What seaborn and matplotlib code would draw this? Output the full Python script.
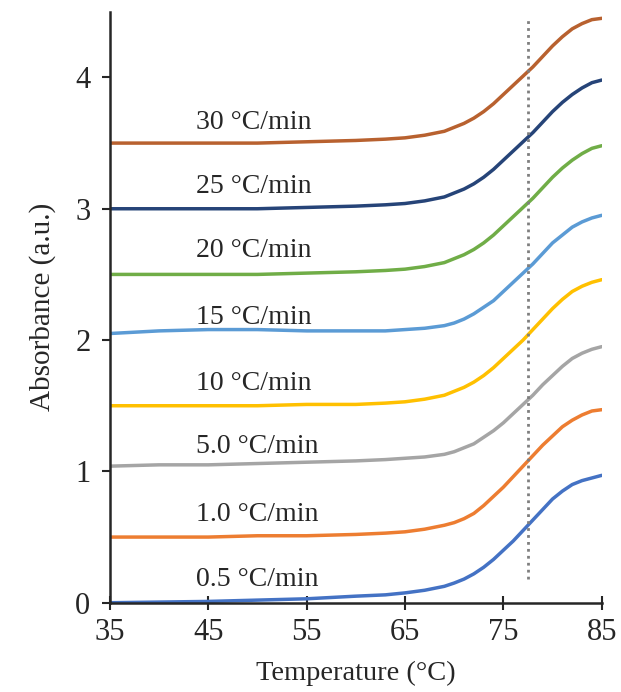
import numpy as np
import pandas as pd
import matplotlib
matplotlib.use("Agg")
import matplotlib.pyplot as plt
import seaborn as sns

# ---- data ----
temperature = [35, 40, 45, 50, 55, 60, 63, 65, 67, 69, 70, 71, 72, 73, 74, 75,
               76, 77, 78, 79, 80, 81, 82, 83, 84, 85]

rate_labels = ["0.5 °C/min", "1.0 °C/min", "5.0 °C/min", "10 °C/min",
               "15 °C/min", "20 °C/min", "25 °C/min", "30 °C/min"]

abs_05 = [0.00, 0.005, 0.01, 0.02, 0.03, 0.05, 0.06,
          0.075, 0.095, 0.125, 0.15, 0.18, 0.22, 0.27, 0.33, 0.40, 0.47, 0.55, 0.63, 0.71, 0.79, 0.85, 0.90, 0.93, 0.95, 0.97]
abs_10 = [0.50, 0.50, 0.50, 0.51, 0.51, 0.52, 0.53,
          0.54, 0.56, 0.59, 0.61, 0.64, 0.68, 0.74, 0.81, 0.88, 0.96, 1.04, 1.12, 1.20, 1.27, 1.34, 1.39, 1.43, 1.46, 1.47]
abs_50 = [1.04, 1.05, 1.05, 1.06, 1.07, 1.08, 1.09,
          1.10, 1.11, 1.13, 1.15, 1.18, 1.21, 1.26, 1.31, 1.37, 1.44, 1.51, 1.58, 1.66, 1.73, 1.80, 1.86, 1.90, 1.93, 1.95]
abs_100 = [1.50, 1.50, 1.50, 1.50, 1.51, 1.51, 1.52,
           1.53, 1.55, 1.58, 1.61, 1.64, 1.68, 1.73, 1.79, 1.86, 1.93, 2.00, 2.08, 2.16, 2.24, 2.31, 2.37, 2.41, 2.44, 2.46]
abs_150 = [2.05, 2.07, 2.08, 2.08, 2.07, 2.07, 2.07,
           2.08, 2.09, 2.11, 2.13, 2.16, 2.20, 2.25, 2.30, 2.37, 2.44, 2.51, 2.58, 2.66, 2.74, 2.80, 2.86, 2.90, 2.93, 2.95]
abs_200 = [2.50, 2.50, 2.50, 2.50, 2.51, 2.52, 2.53,
           2.54, 2.56, 2.59, 2.62, 2.65, 2.69, 2.74, 2.80, 2.87, 2.94, 3.01, 3.08, 3.16, 3.24, 3.31, 3.37, 3.42, 3.46, 3.48]
abs_250 = [3.00, 3.00, 3.00, 3.00, 3.01, 3.02, 3.03,
           3.04, 3.06, 3.09, 3.12, 3.15, 3.19, 3.24, 3.30, 3.37, 3.44, 3.51, 3.58, 3.66, 3.74, 3.81, 3.87, 3.92, 3.96, 3.98]
abs_300 = [3.50, 3.50, 3.50, 3.50, 3.51, 3.52, 3.53,
           3.54, 3.56, 3.59, 3.62, 3.65, 3.69, 3.74, 3.80, 3.87, 3.94, 4.01, 4.08, 4.16, 4.24, 4.31, 4.37, 4.41, 4.44, 4.45]

series_values = [abs_05, abs_10, abs_50, abs_100, abs_150, abs_200, abs_250, abs_300]

label_y = [0.18, 0.67, 1.19, 1.67, 2.17, 2.68, 3.17, 3.66]
label_x = 43.8

melting_temp = 77.5
melt_line_span = [0.18, 4.46]

x_ticks = [35, 45, 55, 65, 75, 85]
y_ticks = [0, 1, 2, 3, 4]

colors = ["#4472C4", "#ED7D31", "#A5A5A5", "#FFC000",
          "#5B9BD5", "#70AD47", "#264478", "#B8612F"]

# ---- build long-form table ----
rows = []
for lab, vals in zip(rate_labels, series_values):
    for t, v in zip(temperature, vals):
        rows.append({"Temperature": t, "Absorbance": v, "Rate": lab})
df = pd.DataFrame(rows)

sns.set_style("ticks")
plt.rcParams['font.family'] = ['Liberation Serif', 'DejaVu Serif']

fig = plt.figure(figsize=(6.21, 6.92), dpi=100)
ax = fig.add_axes([0.177, 0.129, 0.792, 0.854])

sns.lineplot(data=df, x="Temperature", y="Absorbance", hue="Rate",
             hue_order=rate_labels, palette=colors, linewidth=2.5,
             legend=False, ax=ax)

ax.vlines(melting_temp, melt_line_span[0], melt_line_span[1],
          colors="#7F7F7F", linestyles=(0, (1, 1.5)), linewidth=2)

for lab, yy in zip(rate_labels, label_y):
    ax.text(label_x, yy, lab, fontsize=20, ha="left", va="center", color="#262626")

ax.set_xlim(35, 85)
ax.set_ylim(0, 4.5)
ax.set_xticks(x_ticks)
ax.set_yticks(y_ticks)
ax.set_xlabel("Temperature (°C)", fontsize=20.5, color="#262626", labelpad=10)
ax.set_ylabel("Absorbance (a.u.)", fontsize=21, color="#262626", labelpad=14)
ax.tick_params(axis="x", direction="inout", length=10, width=1.5, labelsize=22,
               colors="#262626", pad=6)
ax.tick_params(axis="y", direction="out", length=6, width=1.5, labelsize=22,
               colors="#262626", pad=8)
for s in ["left", "bottom"]:
    ax.spines[s].set_linewidth(1.8)
    ax.spines[s].set_color("#262626")
for s in ["top", "right"]:
    ax.spines[s].set_visible(False)

fig.savefig("out.png", dpi=100)
